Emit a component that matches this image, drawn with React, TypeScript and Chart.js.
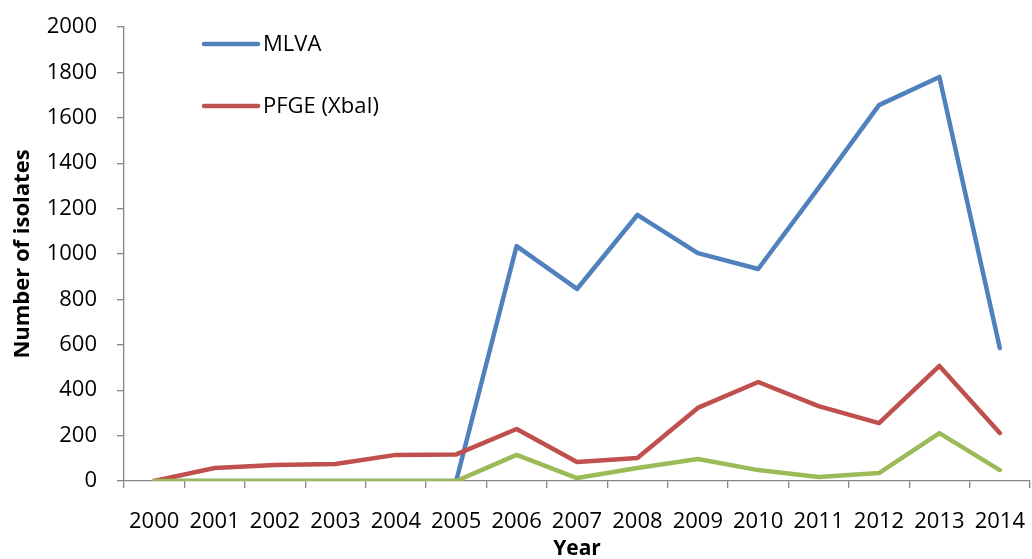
import React, { useEffect, useRef } from "react";
import { Chart, registerables } from "chart.js";

Chart.register(...registerables);

const years = ["2000","2001","2002","2003","2004","2005","2006","2007","2008","2009","2010","2011","2012","2013","2014"];
const mlva = [0, 0, 0, 0, 0, 0, 1035, 846, 1172, 1004, 934, 1291, 1656, 1780, 586];
const pfge = [0, 57, 70, 75, 115, 117, 229, 84, 101, 322, 436, 330, 255, 507, 211];
const other = [0, 0, 0, 0, 0, 0, 115, 13, 57, 97, 48, 18, 35, 211, 48];
const legendNames = ["MLVA", "PFGE (XbaI)"];

const FONT = "'Open Sans', 'DejaVu Sans', sans-serif";
const AXIS = "#868686";

const insideLegend = {
  id: "insideLegend",
  afterDraw(chart: any) {
    const ctx = chart.ctx;
    const a = chart.chartArea;
    ctx.save();
    chart.data.datasets.forEach((ds: any, i: number) => {
      if (!legendNames.includes(ds.label)) return;
      const y = a.top + 17 + i * 62;
      ctx.strokeStyle = ds.borderColor;
      ctx.lineWidth = 4.5;
      ctx.lineCap = "round";
      ctx.beginPath();
      ctx.moveTo(a.left + 80, y);
      ctx.lineTo(a.left + 134, y);
      ctx.stroke();
      ctx.fillStyle = "#000";
      ctx.font = `22px ${FONT}`;
      ctx.textBaseline = "middle";
      ctx.textAlign = "left";
      ctx.fillText(ds.label, a.left + 139, y + 1);
    });
    ctx.restore();
  },
};

export default function App() {
  const ref = useRef<HTMLCanvasElement | null>(null);
  useEffect(() => {
    document.body.style.margin = "0";
    document.body.style.overflow = "hidden";
    const mk = (label: string, data: number[], color: string, order: number) => ({
      label,
      data,
      order,
      borderColor: color,
      backgroundColor: color,
      borderWidth: 4.5,
      pointRadius: 0,
      tension: 0,
      borderCapStyle: "round" as const,
      borderJoinStyle: "round" as const,
    });
    const chart = new Chart(ref.current!, {
      type: "line",
      data: {
        labels: years,
        datasets: [
          mk("MLVA", mlva, "#4F81BD", 3),
          mk("PFGE (XbaI)", pfge, "#C0504D", 2),
          mk("", other, "#9BBB59", 1),
        ],
      },
      options: {
        responsive: false,
        animation: false,
        layout: { padding: { top: 27, right: 2, left: 0, bottom: 0 } },
        plugins: { legend: { display: false }, tooltip: { enabled: false } },
        scales: {
          x: {
            offset: true,
            afterFit: (s: any) => { s.height = 78; s.paddingLeft = 0; s.paddingRight = 0; },
            grid: { offset: true, drawOnChartArea: false, tickLength: 7, color: AXIS, lineWidth: 1.3 },
            border: { color: AXIS, width: 1.3 },
            ticks: { color: "#000", font: { family: FONT, size: 22 }, padding: 21, maxRotation: 0, autoSkip: false },
            title: { display: true, text: "Year", color: "#000", font: { family: FONT, size: 21, weight: "bold" }, padding: { top: 0, bottom: -3 } },
          },
          y: {
            min: 0,
            max: 2000,
            afterFit: (s: any) => { s.width = 124; s.paddingTop = 0; s.paddingBottom = 0; },
            grid: { drawOnChartArea: false, tickLength: 7, color: AXIS, lineWidth: 1.3 },
            border: { color: AXIS, width: 1.3 },
            ticks: {
              stepSize: 200,
              color: "#000",
              font: { family: FONT, size: 22 },
              padding: 20,
              callback: (v: any) => String(v),
            },
            title: { display: true, text: "Number of isolates", color: "#000", font: { family: FONT, size: 22, weight: "bold" }, padding: { top: 10, bottom: 0 } },
          },
        },
      },
      plugins: [insideLegend],
    });
    return () => chart.destroy();
  }, []);
  return (
    <div style={{ width: 1032, height: 559, overflow: "hidden" }}>
      <canvas ref={ref} width={1032} height={559} style={{ display: "block" }} />
    </div>
  );
}
